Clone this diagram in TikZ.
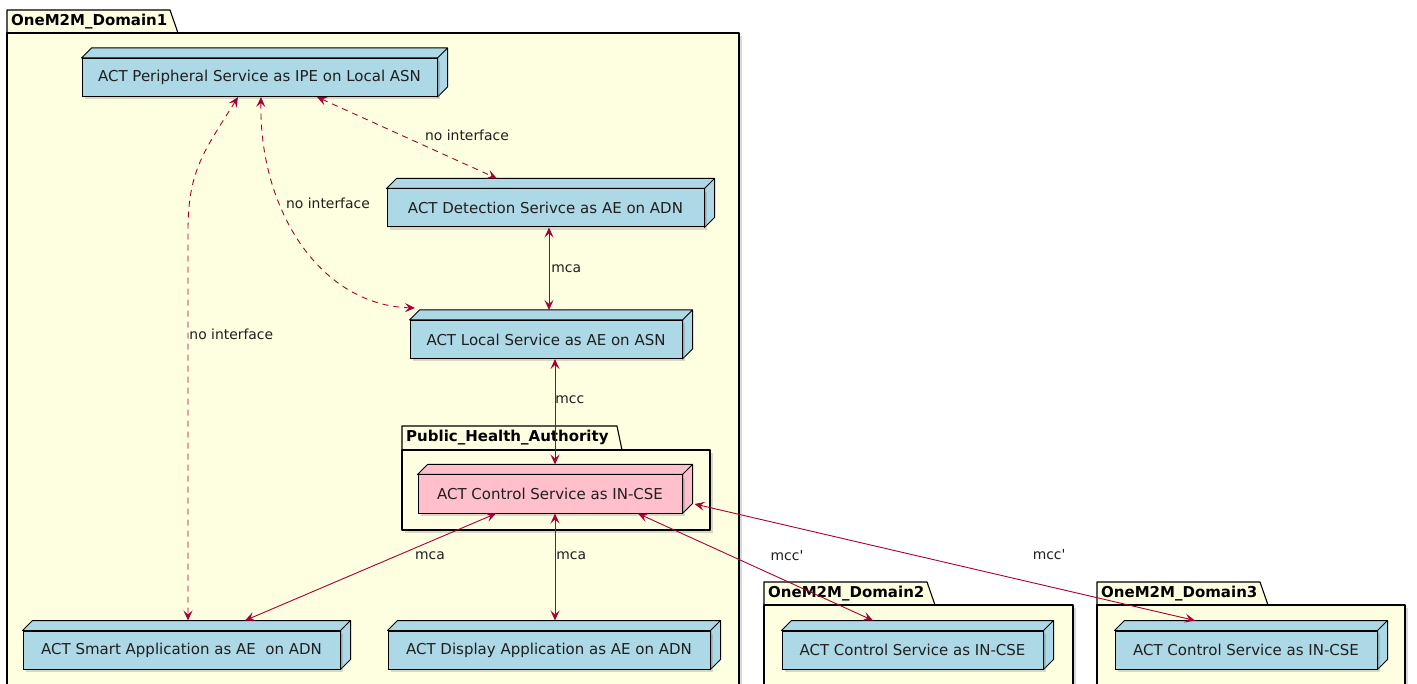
\documentclass[tikz,border=0pt]{standalone}
\usepackage{fontspec}
\setmainfont{DejaVu Sans}
\usepackage{tikz}
\usetikzlibrary{arrows.meta, shadows}
\definecolor{NodeBlue}{HTML}{ADD8E6}
\definecolor{NodePink}{HTML}{FFC0CB}
\definecolor{PkgYellow}{HTML}{FEFEE0}
\definecolor{LinkRed}{HTML}{A80036}
\definecolor{InkGrey}{HTML}{1F1F1F}
\newcommand{\boxfont}{\fontsize{15}{18}\selectfont}
\newcommand{\linkfont}{\fontsize{13.9}{16}\selectfont}
\newcommand{\pkgfont}{\fontsize{15}{18}\selectfont\bfseries}
\tikzset{
  devicebox/.style={rectangle, draw=black, line width=1pt, fill=#1, minimum height=38pt, inner sep=0pt, font=\boxfont, text=InkGrey, drop shadow={shadow xshift=3pt, shadow yshift=-3pt, opacity=0.3},
    append after command={\pgfextra{\pgfinterruptpath
      \draw[line width=1pt, line join=round, fill=#1] (\tikzlastnode.north west) -- ++(10pt,10pt) -- ([shift={(10pt,10pt)}]\tikzlastnode.north east) -- ([shift={(10pt,10pt)}]\tikzlastnode.south east) -- (\tikzlastnode.south east) -- (\tikzlastnode.north east) -- cycle (\tikzlastnode.north east) -- ++(10pt,10pt);
      \endpgfinterruptpath}}},
  pkgframe/.style={draw=black, line width=1.1pt, fill=PkgYellow, line join=round},
  pkgshadow/.style={drop shadow={shadow xshift=3pt, shadow yshift=-3pt, opacity=0.3}},
  pkglabel/.style={anchor=west, inner sep=0pt, font=\pkgfont, text=black},
  linkarrow/.style={<->, >={Stealth[length=10pt, width=9pt, inset=4pt]}, line width=0.9pt, LinkRed},
  dashedlink/.style={linkarrow, dash pattern=on 6pt off 5pt},
  linklabel/.style={anchor=west, inner sep=0pt, font=\linkfont, text=InkGrey}
}
\begin{document}
\begin{tikzpicture}[x=1pt, y=-1pt]
  \clip (0,0) rectangle (1417,684);

  % OneM2M_Domain1
  \draw[pkgframe] (7,10) -- (170,10) -- (178,33) -- (7,33) -- cycle;
  \draw[pkgframe, pkgshadow] (7,33) rectangle (739,700);
  \node[pkglabel] (dom1) at (11,21.5) {OneM2M\_Domain1};

  % Public_Health_Authority
  \draw[pkgframe] (402,426) -- (617,426) -- (622,450) -- (402,450) -- cycle;
  \draw[pkgframe, pkgshadow] (402,450) rectangle (710,530);
  \node[pkglabel] (pha) at (406,438) {Public\_Health\_Authority};

  \node[devicebox=NodeBlue, minimum width=355pt] (periph) at (259.5,77.5) {ACT Peripheral Service as IPE on Local ASN};
  \node[devicebox=NodeBlue, minimum width=317pt] (detect) at (545.5,208) {ACT Detection Serivce as AE on ADN};
  \node[devicebox=NodeBlue, minimum width=272pt] (local) at (546,339.5) {ACT Local Service as AE on ASN};
  \node[devicebox=NodePink, minimum width=264pt] (control) at (550,494) {ACT Control Service as IN-CSE};
  \node[devicebox=NodeBlue, minimum width=317pt] (smart) at (181.5,650) {ACT Smart Application as AE\ \ on ADN};
  \node[devicebox=NodeBlue, minimum width=322pt] (display) at (549,650) {ACT Display Application as AE on ADN};

  % OneM2M_Domain2
  \draw[pkgframe] (764,582) -- (927,582) -- (935,605) -- (764,605) -- cycle;
  \draw[pkgframe, pkgshadow] (764,605) rectangle (1073,700);
  \node[pkglabel] (dom2) at (768,593.5) {OneM2M\_Domain2};
  \node[devicebox=NodeBlue, minimum width=261pt] (remote2) at (912.5,650) {ACT Control Service as IN-CSE};

  % OneM2M_Domain3
  \draw[pkgframe] (1097,582) -- (1260,582) -- (1268,605) -- (1097,605) -- cycle;
  \draw[pkgframe, pkgshadow] (1097,605) rectangle (1405,700);
  \node[pkglabel] (dom3) at (1101,593.5) {OneM2M\_Domain3};
  \node[devicebox=NodeBlue, minimum width=262pt] (remote3) at (1246,650) {ACT Control Service as IN-CSE};

  % links
  \draw[dashedlink] ([xshift=57.5pt]periph.south) -- ([xshift=-48.5pt, yshift=10pt]detect.north) node[linklabel, pos=0.476, xshift=22pt] {no interface};
  \draw[dashedlink] ([xshift=1.5pt]periph.south) .. controls (259,210) and (320,305) .. ([xshift=-131pt, yshift=12pt]local.north) node[linklabel, pos=0.34, xshift=6pt] {no interface};
  \draw[dashedlink] ([xshift=-21.5pt]periph.south) .. controls (205,150) and (188,170) .. (188,230) -- ([xshift=6.5pt, yshift=10pt]smart.north) node[linklabel, pos=0.266, xshift=1pt] {no interface};
  \draw[linkarrow] ([xshift=3.5pt]detect.south) -- ([xshift=3pt, yshift=10pt]local.north) node[linklabel, pos=0.5, xshift=2pt] {mca};
  \draw[linkarrow] ([xshift=9pt]local.south) -- ([xshift=5pt, yshift=10pt]control.north) node[linklabel, pos=0.39] {mcc};
  \draw[linkarrow] ([xshift=-54pt]control.south) -- ([xshift=63.5pt, yshift=10pt]smart.north) node[linklabel, pos=0.39, xshift=16.6pt] {mca};
  \draw[linkarrow] ([xshift=5pt]control.south) -- ([xshift=6pt, yshift=10pt]display.north) node[linklabel, pos=0.39, xshift=1pt] {mca};
  \draw[linkarrow] ([xshift=88pt]control.south) -- ([xshift=-39.5pt, yshift=10pt]remote2.north) node[linklabel, pos=0.39, xshift=40.6pt] {mcc\textquotesingle};
  \draw[linkarrow] ([xshift=12pt, yshift=-10pt]control.east) -- ([xshift=-51pt, yshift=10pt]remote3.north) node[linklabel, pos=0.436, xshift=119.6pt] {mcc\textquotesingle};
\end{tikzpicture}
\end{document}
